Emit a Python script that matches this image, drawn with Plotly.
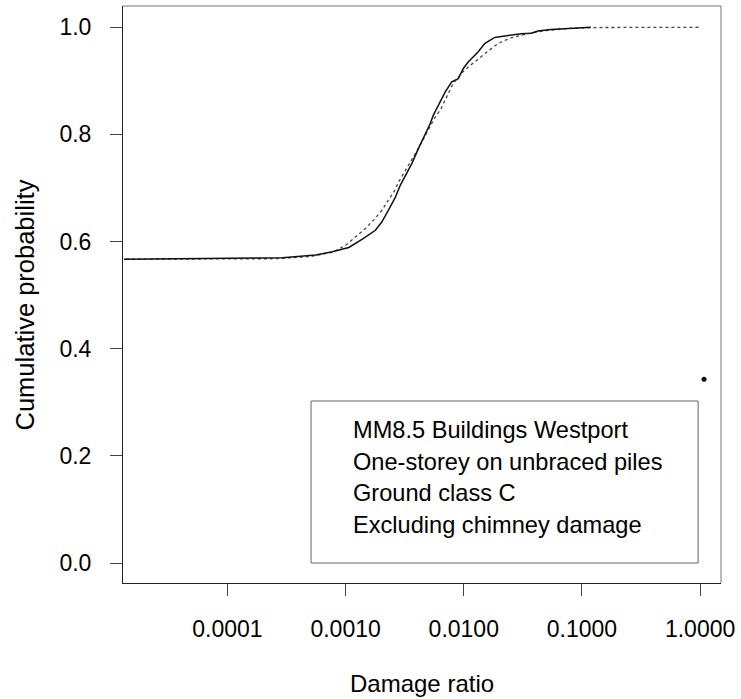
import plotly.graph_objects as go

# Empirical cumulative distribution of damage ratio (solid line)
emp_ratio = [1.33e-5, 1.53e-4, 2.92e-4, 5.58e-4, 7.71e-4, 1.064e-3, 1.377e-3, 1.786e-3,
             2.03e-3, 2.31e-3, 2.64e-3, 2.90e-3, 3.20e-3, 3.64e-3, 4.14e-3, 4.71e-3,
             5.19e-3, 5.53e-3, 6.31e-3, 6.95e-3, 7.91e-3, 8.99e-3, 9.91e-3, 1.09e-2,
             1.32e-2, 1.51e-2, 1.83e-2, 2.37e-2, 3.07e-2, 3.72e-2, 4.24e-2, 5.48e-2,
             7.11e-2, 9.20e-2, 1.19e-1]
emp_prob = [0.567, 0.569, 0.570, 0.575, 0.581, 0.589, 0.604, 0.621,
            0.637, 0.659, 0.683, 0.705, 0.724, 0.746, 0.774, 0.799,
            0.820, 0.836, 0.861, 0.879, 0.898, 0.904, 0.923, 0.935,
            0.954, 0.970, 0.981, 0.985, 0.988, 0.989, 0.993, 0.996,
            0.997, 0.999, 1.0]

# Fitted distribution (dotted line)
fit_ratio = [1.38e-5, 2.51e-4, 5.01e-4, 7.76e-4, 1.0e-3, 1.20e-3, 1.48e-3, 1.74e-3,
             2.04e-3, 2.29e-3, 2.57e-3, 2.82e-3, 3.16e-3, 3.55e-3, 3.98e-3, 4.47e-3,
             5.01e-3, 5.75e-3, 6.31e-3, 6.92e-3, 7.41e-3, 8.13e-3, 9.55e-3, 1.12e-2,
             1.32e-2, 1.55e-2, 1.91e-2, 2.09e-2, 2.51e-2, 3.47e-2, 5.01e-2, 7.94e-2,
             1.26e-1, 1.0]
fit_prob = [0.567, 0.568, 0.572, 0.580, 0.593, 0.608, 0.625, 0.641,
            0.659, 0.677, 0.693, 0.712, 0.730, 0.748, 0.768, 0.788,
            0.808, 0.833, 0.845, 0.864, 0.876, 0.895, 0.914, 0.928,
            0.940, 0.953, 0.968, 0.973, 0.980, 0.988, 0.994, 0.998,
            0.9995, 1.0]

# Isolated point
point_ratio = [1.08]
point_prob = [0.343]

x_tick_vals = [1e-4, 1e-3, 1e-2, 1e-1, 1.0]
x_tick_text = ["0.0001", "0.0010", "0.0100", "0.1000", "1.0000"]
y_tick_vals = [0.0, 0.2, 0.4, 0.6, 0.8, 1.0]
y_tick_text = ["0.0", "0.2", "0.4", "0.6", "0.8", "1.0"]

legend_lines = ["MM8.5 Buildings Westport",
                "One-storey on unbraced piles",
                "Ground class C",
                "Excluding chimney damage"]

FONT = "Liberation Sans, Arial, Helvetica, sans-serif"
INK = "#000000"

fig = go.Figure()
fig.add_trace(go.Scatter(x=fit_ratio, y=fit_prob, mode="lines",
                         line=dict(color="#444444", width=1.3, dash="dot"),
                         showlegend=False, hoverinfo="skip"))
fig.add_trace(go.Scatter(x=emp_ratio, y=emp_prob, mode="lines",
                         line=dict(color="#111111", width=1.5),
                         showlegend=False, hoverinfo="skip"))
fig.add_trace(go.Scatter(x=point_ratio, y=point_prob, mode="markers",
                         marker=dict(color="#111111", size=5),
                         showlegend=False, hoverinfo="skip"))

W, H = 741, 699
L, R, T, B = 123, 17, 6, 116
pw, ph = W - L - R, H - T - B


def px_x(px):
    return (px - L) / pw


def px_y(py):
    return (H - B - py) / ph


shapes = [
    # top and right frame edges
    dict(type="line", xref="paper", yref="paper", x0=0, x1=1, y0=1, y1=1,
         line=dict(color="#777777", width=1)),
    dict(type="line", xref="paper", yref="paper", x0=1, x1=1, y0=0, y1=1,
         line=dict(color="#777777", width=1)),
    # legend box
    dict(type="rect", xref="paper", yref="paper",
         x0=px_x(312), x1=px_x(701), y0=px_y(563), y1=px_y(401),
         line=dict(color="#666666", width=1), fillcolor="rgba(0,0,0,0)"),
]

annotations = []
for i, txt in enumerate(legend_lines):
    annotations.append(dict(text=txt, xref="paper", yref="paper",
                            x=px_x(352), y=px_y(430 + i * 31.7),
                            xanchor="left", yanchor="middle", showarrow=False,
                            font=dict(family=FONT, size=23.6, color=INK)))
annotations.append(dict(text="Damage ratio", xref="paper", yref="paper",
                        x=px_x(424), y=px_y(683), xanchor="center", yanchor="middle",
                        showarrow=False, font=dict(family=FONT, size=24, color=INK)))
annotations.append(dict(text="Cumulative probability", xref="paper", yref="paper",
                        x=px_x(25), y=px_y(305), xanchor="center", yanchor="middle",
                        textangle=-90, showarrow=False,
                        font=dict(family=FONT, size=25.5, color=INK)))

fig.update_layout(
    width=W, height=H,
    margin=dict(l=L, r=R, t=T, b=B),
    paper_bgcolor="white", plot_bgcolor="white",
    shapes=shapes, annotations=annotations,
    font=dict(family=FONT, color=INK),
    xaxis=dict(type="log", range=[-4.884, 0.177], showgrid=False, zeroline=False,
               showline=True, linecolor="#222222", linewidth=1, mirror=False,
               ticks="outside", ticklen=12, tickcolor="#444444", tickwidth=1,
               tickvals=x_tick_vals, ticktext=x_tick_text,
               tickfont=dict(family=FONT, size=23, color=INK),
               ticklabelstandoff=13),
    yaxis=dict(range=[-0.0373, 1.0397], showgrid=False, zeroline=False,
               showline=True, linecolor="#222222", linewidth=1, mirror=False,
               ticks="outside", ticklen=12, tickcolor="#444444", tickwidth=1,
               tickvals=y_tick_vals, ticktext=y_tick_text,
               tickfont=dict(family=FONT, size=23, color=INK),
               ticklabelstandoff=14),
)

fig.write_html("out.html")
